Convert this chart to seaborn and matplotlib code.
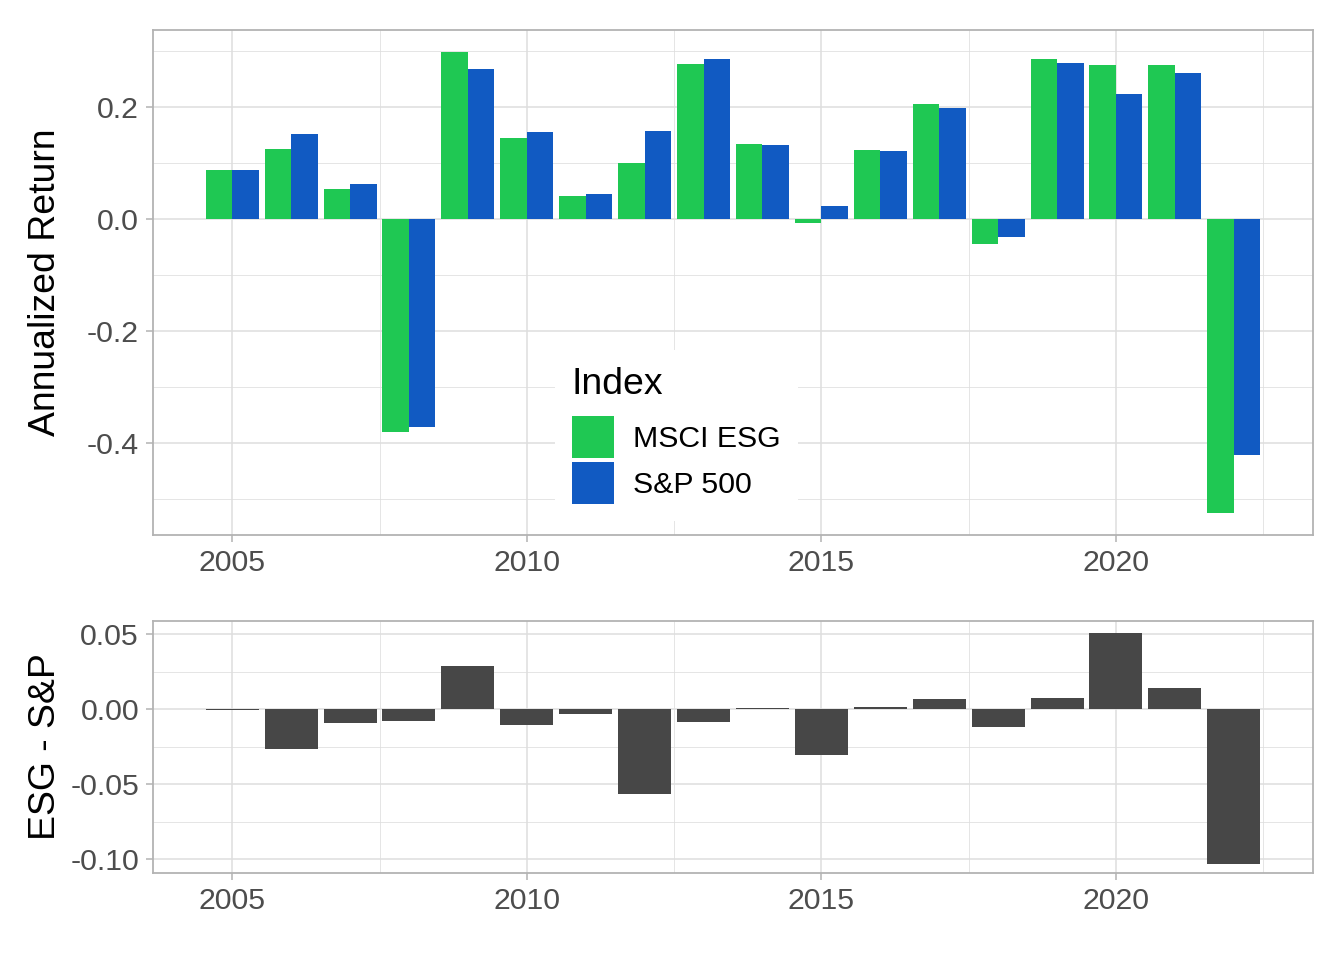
import numpy as np
import pandas as pd
import matplotlib
matplotlib.use("Agg")
import matplotlib.pyplot as plt
import seaborn as sns

# Annual returns
years = list(range(2005, 2023))
msci_esg = [0.088, 0.125, 0.054, -0.380, 0.298, 0.145, 0.041, 0.100, 0.277, 0.134,
            -0.007, 0.123, 0.205, -0.045, 0.286, 0.275, 0.275, -0.525]
sp500 = [0.088, 0.152, 0.062, -0.371, 0.268, 0.155, 0.045, 0.157, 0.286, 0.132,
         0.023, 0.121, 0.198, -0.032, 0.279, 0.223, 0.261, -0.421]
esg_minus_sp = [-0.0005, -0.0268, -0.0094, -0.0080, 0.0288, -0.0107, -0.0033, -0.0563,
                -0.0087, 0.0006, -0.0308, 0.0013, 0.0067, -0.0120, 0.0074, 0.0509,
                0.0141, -0.1030]
index_names = ["MSCI ESG", "S&P 500"]
colors = ["#1FC853", "#115AC2"]

df = pd.DataFrame({
    "Year": years * 2,
    "Return": msci_esg + sp500,
    "Index": [index_names[0]] * len(years) + [index_names[1]] * len(years),
})
df_diff = pd.DataFrame({"Year": years, "Diff": esg_minus_sp})

sns.set_theme(style="white")
plt.rcParams["font.family"] = ["Liberation Sans", "DejaVu Sans"]
plt.rcParams["axes.unicode_minus"] = False

tick_fs = 21.8
title_fs = 26.9

fig = plt.figure(figsize=(13.44, 9.6), dpi=100)
ax1 = fig.add_axes([153 / 1344, 1 - 535 / 960, 1160 / 1344, 505 / 960])
ax2 = fig.add_axes([153 / 1344, 1 - 873 / 960, 1160 / 1344, 252 / 960])

sns.barplot(data=df, x="Year", y="Return", hue="Index", hue_order=index_names,
            palette=colors, native_scale=True, width=0.9, gap=0, saturation=1,
            errorbar=None, linewidth=0, ax=ax1)
sns.barplot(data=df_diff, x="Year", y="Diff", color="#474747", native_scale=True,
            width=0.9, saturation=1, errorbar=None, linewidth=0, ax=ax2)

xlim = (2003.655, 2023.345)
grid_c = "#DEDEDE"
for ax in (ax1, ax2):
    ax.set_xlim(*xlim)
    ax.set_xticks([2005, 2010, 2015, 2020])
    ax.set_xticklabels(["2005", "2010", "2015", "2020"])
    ax.set_xticks([2007.5, 2012.5, 2017.5, 2022.5], minor=True)
    ax.set_axisbelow(True)
    ax.grid(which="major", color=grid_c, linewidth=1.1)
    ax.grid(which="minor", color=grid_c, linewidth=0.55)
    for s in ax.spines.values():
        s.set_visible(True)
        s.set_color("#B3B3B3")
        s.set_linewidth(1.3)
    ax.tick_params(which="major", length=5, width=1.1, color="#B3B3B3",
                   labelsize=tick_fs, labelcolor="#4D4D4D", pad=5, left=True, bottom=True)
    ax.tick_params(which="minor", length=0)
    ax.set_xlabel("")

ax1.set_ylim(-0.5643, 0.3375)
ax1.set_yticks([-0.4, -0.2, 0.0, 0.2])
ax1.set_yticklabels(["-0.4", "-0.2", "0.0", "0.2"])
ax1.set_yticks([-0.5, -0.3, -0.1, 0.1, 0.3], minor=True)
ax1.set_ylabel("Annualized Return", fontsize=title_fs, color="black")

ax2.set_ylim(-0.1093, 0.0587)
ax2.set_yticks([-0.10, -0.05, 0.0, 0.05])
ax2.set_yticklabels(["-0.10", "-0.05", "0.00", "0.05"])
ax2.set_yticks([-0.075, -0.025, 0.025], minor=True)
ax2.set_ylabel("ESG - S&P", fontsize=title_fs, color="black")

# both y titles share the same left position, like aligned panels
for ax in (ax1, ax2):
    ax.yaxis.set_label_coords((63 - 153) / 1160, 0.5)

sns.move_legend(ax1, loc="upper left",
                bbox_to_anchor=(555 / 1344, 1 - 350 / 960), bbox_transform=fig.transFigure,
                title="Index", fontsize=tick_fs, title_fontsize=title_fs,
                frameon=True, facecolor="white", edgecolor="none", framealpha=1,
                fancybox=False, handlelength=1.386, handleheight=1.755,
                handletextpad=0.63, labelspacing=0.13, borderpad=0.56,
                borderaxespad=0, alignment="left")
leg = ax1.get_legend()
leg._legend_box.sep = 10
for t in leg.get_texts():
    t.set_color("black")
leg.get_title().set_color("black")

fig.savefig("out.png", dpi=100)
